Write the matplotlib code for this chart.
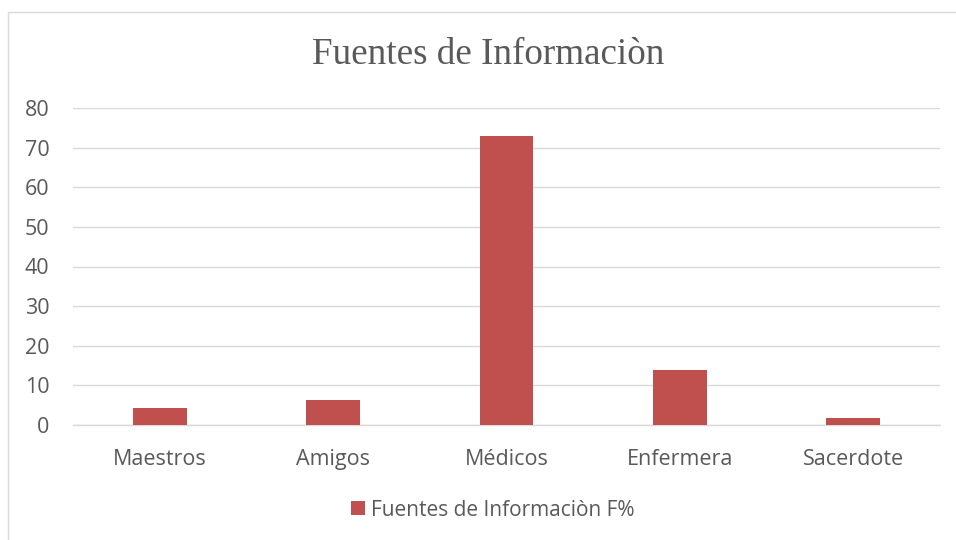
import matplotlib
matplotlib.use("Agg")
import matplotlib.pyplot as plt
from matplotlib.patches import Rectangle

categories = ["Maestros", "Amigos", "Médicos", "Enfermera", "Sacerdote"]
values = [4.2, 6.3, 73, 13.8, 1.8]
series_name = "Fuentes de Informaciòn F%"
title = "Fuentes de Informaciòn"
yticks = [0, 10, 20, 30, 40, 50, 60, 70, 80]

fig = plt.figure(figsize=(9.56, 5.4), dpi=100)
fig.patch.set_facecolor("white")
fig.patches.append(Rectangle((8/956, -0.1), 1.0, 1.1 - 12/540, transform=fig.transFigure,
                             fill=False, edgecolor="#D9D9D9", linewidth=1.0))
ax = fig.add_axes([73/956, 1 - 425/540, (940-73)/956, (425-108)/540])

x = list(range(len(categories)))
ax.bar(x, values, width=0.31, color="#C0504D", label=series_name, zorder=3)
ax.set_xlim(-0.5, len(categories) - 0.5)
ax.set_ylim(0, 80)
ax.set_yticks(yticks)
ax.set_xticks(x)
ax.set_xticklabels(categories)
ax.yaxis.grid(True, color="#D9D9D9", linewidth=1.0, zorder=0)
for s in ["top", "right", "left"]:
    ax.spines[s].set_visible(False)
ax.spines["bottom"].set_color("#D9D9D9")
ax.spines["bottom"].set_linewidth(1.0)
ax.tick_params(axis="both", length=0, colors="#595959", labelsize=15.5)
for lab in ax.get_xticklabels() + ax.get_yticklabels():
    lab.set_fontfamily("Open Sans")
ax.tick_params(axis="x", pad=17)
ax.tick_params(axis="y", pad=17)

fig.text(488/956, 1 - 55/540, title, ha="center", va="center", fontsize=26.7,
         family="Liberation Serif", color="#595959")
leg = fig.legend(loc="center", bbox_to_anchor=(493/956, 1 - 510/540), frameon=False,
                 prop={"family": "Open Sans", "size": 15}, handlelength=0.65,
                 handleheight=0.65, handletextpad=0.3)
for t in leg.get_texts():
    t.set_color("#595959")

fig.savefig("out.png", dpi=100)
